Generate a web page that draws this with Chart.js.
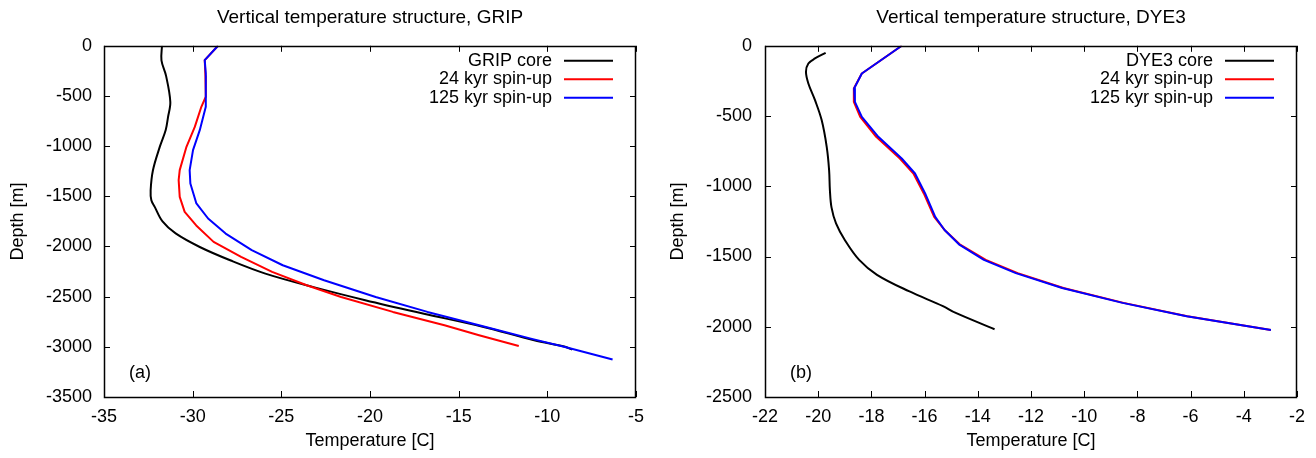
<!DOCTYPE html>
<html>
<head>
<meta charset="utf-8">
<title>Vertical temperature structure</title>
<script src="https://cdn.jsdelivr.net/npm/chart.js@4.4.1/dist/chart.umd.min.js"></script>
<style>
  html, body { margin: 0; padding: 0; background: #fff; }
  .panel { position: absolute; top: 0; width: 658px; height: 458px; }
  #left { left: 0; }
  #right { left: 658px; }
</style>
</head>
<body>
<div class="panel" id="left"><canvas id="gripChart" width="658" height="458"></canvas></div>
<div class="panel" id="right"><canvas id="dyeChart" width="658" height="458"></canvas></div>
<script>
/* ---- GRIP (panel a) ---- */
const gripCoreDepth = [0, -145, -300, -560, -710, -840, -1010, -1240, -1440, -1540, -1605, -1750, -1870, -2005, -2140, -2270, -2405, -2535, -2670, -2800, -2935, -3000, -3028];
const gripCoreTemp  = [-31.73, -31.76, -31.5, -31.26, -31.39, -31.52, -31.86, -32.24, -32.37, -32.33, -32.14, -31.7, -30.96, -29.6, -27.85, -25.9, -23.18, -20.27, -16.96, -13.65, -10.74, -9.0, -8.6];

const grip24Depth = [0, -143, -300, -508, -608, -808, -1007, -1239, -1339, -1506, -1655, -1790, -1954, -2104, -2253, -2386, -2503, -2652, -2785, -2885, -2991];
const grip24Temp  = [-28.57, -29.32, -29.28, -29.26, -29.51, -29.88, -30.35, -30.73, -30.79, -30.73, -30.45, -29.8, -28.82, -27.27, -25.52, -23.57, -21.63, -18.71, -15.8, -13.85, -11.61];

const grip125Depth = [0, -143, -275, -608, -841, -1040, -1239, -1372, -1571, -1721, -1871, -2037, -2187, -2336, -2503, -2652, -2785, -2918, -3001, -3127];
const grip125Temp  = [-28.57, -29.32, -29.26, -29.26, -29.6, -29.98, -30.17, -30.13, -29.79, -29.13, -28.14, -26.67, -24.92, -22.59, -19.68, -16.76, -13.85, -10.93, -9.0, -6.32];

/* ---- DYE3 (panel b) ---- */
const dyeCoreDepth = [-50, -90, -126, -185, -268, -387, -529, -719, -885, -1028, -1150, -1264, -1382, -1524, -1630, -1747, -1853, -1900, -2018];
const dyeCoreTemp  = [-19.72, -20.12, -20.37, -20.46, -20.37, -20.12, -19.87, -19.68, -19.59, -19.56, -19.5, -19.33, -19.0, -18.46, -17.79, -16.59, -15.31, -14.85, -13.37];

const dyeModelDepth = [0, -197, -304, -399, -506, -648, -802, -909, -1051, -1218, -1311, -1413, -1524, -1618, -1724, -1830, -1925, -2023];
const dye24Temp  = [-16.86, -18.36, -18.66, -18.66, -18.42, -17.82, -16.93, -16.42, -16.03, -15.64, -15.25, -14.68, -13.7, -12.5, -10.78, -8.52, -6.12, -2.98];
const dye125Temp = [-16.86, -18.36, -18.65, -18.62, -18.36, -17.74, -16.86, -16.36, -15.98, -15.6, -15.25, -14.71, -13.77, -12.57, -10.83, -8.56, -6.15, -2.98];

/* ---- axes ---- */
const gripTempRange = [-35, -5];
const gripDepthRange = [-3500, 0];
const dyeTempRange = [-22, -2];
const dyeDepthRange = [-2500, 0];

const FONT = '"Liberation Sans", Arial, Helvetica, sans-serif';
const font = { family: FONT, size: 18 };

function pts(temps, depths) {
  return temps.map((t, i) => ({ x: t, y: depths[i] }));
}

function series(label, temps, depths, color, order, tension) {
  return {
    label,
    data: pts(temps, depths),
    borderColor: color,
    backgroundColor: color,
    borderWidth: 2,
    pointRadius: 0,
    showLine: true,
    tension: tension || 0,
    borderJoinStyle: 'round',
    order
  };
}

// gnuplot-ish frame: box, inward ticks on all sides, legend, panel tag
const framePlugin = {
  id: 'frame',
  afterDatasetsDraw(chart, args, opts) {
    const { ctx, chartArea: a, scales: { x, y } } = chart;
    ctx.save();
    ctx.strokeStyle = '#000';
    ctx.lineWidth = 1;
    ctx.beginPath();
    x.ticks.forEach(t => {
      const px = Math.round(x.getPixelForValue(t.value)) + 0.5;
      ctx.moveTo(px, a.bottom); ctx.lineTo(px, a.bottom - 6);
      ctx.moveTo(px, a.top); ctx.lineTo(px, a.top + 6);
    });
    y.ticks.forEach(t => {
      const py = Math.round(y.getPixelForValue(t.value)) + 0.5;
      ctx.moveTo(a.left, py); ctx.lineTo(a.left + 6, py);
      ctx.moveTo(a.right, py); ctx.lineTo(a.right - 6, py);
    });
    ctx.stroke();
    ctx.lineWidth = 1.5;
    ctx.strokeRect(Math.round(a.left) + 0.5, Math.round(a.top) + 0.5,
                   Math.round(a.width) - 1, Math.round(a.height));

    // legend: text right-aligned, sample line to its right
    ctx.font = '18px ' + FONT;
    ctx.textAlign = 'right';
    ctx.textBaseline = 'middle';
    chart.data.datasets.forEach((ds, i) => {
      const ly = a.top + 15 + i * 18.5;
      ctx.fillStyle = '#000';
      ctx.fillText(ds.label, a.right - 84, ly);
      ctx.strokeStyle = ds.borderColor;
      ctx.lineWidth = 2;
      ctx.beginPath();
      ctx.moveTo(a.right - 72, ly);
      ctx.lineTo(a.right - 23, ly);
      ctx.stroke();
    });

    // panel tag
    ctx.textAlign = 'left';
    ctx.fillStyle = '#000';
    ctx.fillText(opts.tag, a.left + 25, a.bottom - 24);
    ctx.restore();
  }
};

function makePanel(canvasId, cfg) {
  const canvas = document.getElementById(canvasId);
  return new Chart(canvas.getContext('2d'), {
    type: 'scatter',
    data: { datasets: cfg.datasets },
    options: {
      responsive: false,
      animation: false,
      layout: { padding: { left: 0, right: cfg.padRight, top: 0, bottom: 0 } },
      plugins: {
        legend: { display: false },
        tooltip: { enabled: false },
        title: {
          display: true,
          text: cfg.title,
          fullSize: false,
          color: '#000',
          font: { family: FONT, size: 19, weight: 'normal' },
          padding: { top: 6, bottom: 17 }
        },
        frame: { tag: cfg.tag }
      },
      scales: {
        x: {
          type: 'linear',
          min: cfg.xRange[0],
          max: cfg.xRange[1],
          grid: { display: false, drawTicks: false },
          border: { display: false },
          ticks: { stepSize: cfg.xStep, padding: 9, color: '#000', font, callback: v => String(v) },
          title: { display: true, text: 'Temperature [C]', color: '#000', font, padding: { top: 0, bottom: 6 } },
          afterFit: s => { s.height = 61; }
        },
        y: {
          type: 'linear',
          min: cfg.yRange[0],
          max: cfg.yRange[1],
          grid: { display: false, drawTicks: false },
          border: { display: false },
          ticks: { stepSize: 500, padding: cfg.yTickPad, color: '#000', font, callback: v => String(v) },
          title: { display: true, text: 'Depth [m]', color: '#000', font, padding: { top: cfg.yTitlePad, bottom: 0 } },
          afterFit: s => { s.width = cfg.yWidth; }
        }
      }
    },
    plugins: [framePlugin]
  });
}

makePanel('gripChart', {
  title: 'Vertical temperature structure, GRIP',
  tag: '(a)',
  xRange: gripTempRange, xStep: 5,
  yRange: gripDepthRange,
  yWidth: 104, yTickPad: 12, yTitlePad: 7, padRight: 22,
  datasets: [
    series('GRIP core', gripCoreTemp, gripCoreDepth, '#000000', 2, 0.35),
    series('24 kyr spin-up', grip24Temp, grip24Depth, '#ff0000', 1),
    series('125 kyr spin-up', grip125Temp, grip125Depth, '#0000ff', 0)
  ]
});

makePanel('dyeChart', {
  title: 'Vertical temperature structure, DYE3',
  tag: '(b)',
  xRange: dyeTempRange, xStep: 2,
  yRange: dyeDepthRange,
  yWidth: 107, yTickPad: 13, yTitlePad: 9, padRight: 19,
  datasets: [
    series('DYE3 core', dyeCoreTemp, dyeCoreDepth, '#000000', 2, 0.35),
    series('24 kyr spin-up', dye24Temp, dyeModelDepth, '#ff0000', 1),
    series('125 kyr spin-up', dye125Temp, dyeModelDepth, '#0000ff', 0)
  ]
});
</script>
</body>
</html>
